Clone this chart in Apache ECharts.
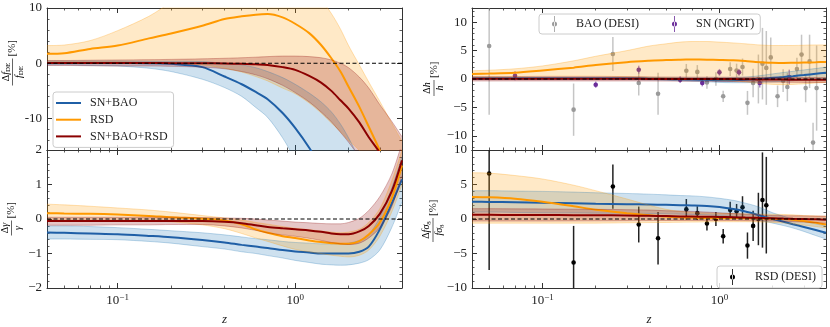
<!DOCTYPE html>
<html>
<head>
<meta charset="utf-8">
<script src="https://cdn.jsdelivr.net/npm/echarts@6/dist/echarts.min.js"></script>
<style>
html, body { margin: 0; padding: 0; background: #fff; }
#chart { width: 830px; height: 327px; }
</style>
</head>
<body>
<div id="chart"></div>
<script>
// redshift grid shared by all model curves
const zGrid = [0.04, 0.05, 0.07, 0.1, 0.15, 0.2, 0.3, 0.4, 0.5, 0.6, 0.7, 0.85, 1.0, 1.2, 1.4, 1.6, 1.8, 2.0, 2.3, 2.6, 3.0, 3.5, 4.0];

// top left: delta f_DE / f_DE [%]
const fdeBlue     = [0.05, 0.05, 0.05, 0.05, 0.0, -0.1, -0.7, -2.4, -3.8, -5.2, -6.5, -9.0, -11.7, -15.3, -19, -23, -27, -31, -37, -43, -50, -58, -66];
const fdeBlueHi   = [0.4, 0.4, 0.4, 0.4, 0.35, 0.35, 0.3, 0.0, -0.3, -0.8, -1.5, -2.6, -3.8, -5.4, -7.0, -8.8, -11, -13.5, -17.5, -22, -28, -35, -42];
const fdeBlueLo   = [-0.3, -0.3, -0.4, -0.5, -0.9, -1.5, -2.9, -4.4, -6.0, -8.0, -9.8, -13.5, -17.5, -23, -29, -35, -41, -47, -56, -65, -76, -90, -100];
const fdeOrange   = [1.7, 1.8, 2.6, 3.2, 4.5, 5.4, 6.8, 8.0, 8.5, 8.8, 8.9, 8.3, 7.15, 5.45, 3.3, 0.9, -1.5, -4.25, -7.9, -11.5, -15.8, -21, -26];
const fdeOrangeHi = [3.2, 3.3, 4.1, 5.9, 8.5, 11, 14, 16, 17, 17.5, 17.5, 17, 15.5, 13.5, 11.5, 9.0, 6.2, 3.2, -0.3, -3.4, -6.9, -10.8, -14.1];
const fdeOrangeLo = [0.2, 0.2, 0.2, 0.2, 0.1, 0.0, -0.3, -0.9, -1.6, -2.4, -3.2, -4.5, -5.5, -7.2, -9.0, -10.8, -12.4, -14, -15.8, -19, -23, -27, -31];
const fdeRed      = [0.05, 0.05, 0.05, 0.05, 0.03, 0.02, 0.0, -0.05, -0.1, -0.2, -0.3, -0.7, -1.2, -2.3, -3.5, -5.0, -6.7, -8.2, -10.7, -13.4, -16.2, -20, -24];
const fdeRedHi    = [0.5, 0.5, 0.55, 0.6, 0.65, 0.7, 0.8, 0.9, 1.0, 1.1, 1.2, 1.3, 1.3, 1.2, 1.0, 0.6, 0.0, -0.8, -2.5, -4.5, -7.5, -10.5, -13.3];
const fdeRedLo    = [-0.4, -0.4, -0.45, -0.5, -0.5, -0.55, -0.7, -1.0, -1.5, -2.1, -2.8, -4.0, -5.3, -7.0, -8.8, -10.6, -12.5, -14.3, -17, -20, -24, -28, -32];

// bottom left: delta gamma / gamma [%]
const gamBlue     = [-0.39, -0.4, -0.42, -0.44, -0.49, -0.53, -0.61, -0.68, -0.75, -0.8, -0.84, -0.9, -0.94, -0.97, -1.0, -1.0, -1.0, -1.0, -0.95, -0.8, -0.3, 0.45, 1.15];
const gamBlueHi   = [-0.2, -0.2, -0.22, -0.25, -0.3, -0.34, -0.4, -0.46, -0.52, -0.57, -0.6, -0.65, -0.68, -0.7, -0.72, -0.72, -0.72, -0.7, -0.62, -0.45, 0.05, 0.9, 1.8];
const gamBlueLo   = [-0.58, -0.58, -0.59, -0.6, -0.65, -0.7, -0.8, -0.87, -0.95, -1.0, -1.06, -1.13, -1.2, -1.26, -1.31, -1.33, -1.34, -1.33, -1.28, -1.18, -0.9, -0.25, 0.5];
const gamOrange   = [0.17, 0.16, 0.15, 0.13, 0.09, 0.05, 0.01, -0.04, -0.15, -0.3, -0.4, -0.5, -0.55, -0.62, -0.67, -0.7, -0.72, -0.72, -0.64, -0.45, -0.1, 0.6, 1.55];
const gamOrangeHi = [0.43, 0.41, 0.37, 0.32, 0.26, 0.2, 0.1, 0.03, -0.03, -0.1, -0.15, -0.22, -0.27, -0.31, -0.35, -0.38, -0.4, -0.38, -0.3, -0.1, 0.3, 1.1, 2.0];
const gamOrangeLo = [-0.05, -0.05, -0.05, -0.05, -0.06, -0.08, -0.17, -0.28, -0.42, -0.55, -0.65, -0.78, -0.88, -0.95, -1.0, -1.05, -1.08, -1.1, -1.05, -0.9, -0.5, 0.2, 1.0];
const gamRed      = [-0.06, -0.06, -0.06, -0.06, -0.06, -0.06, -0.06, -0.08, -0.12, -0.18, -0.23, -0.27, -0.3, -0.33, -0.37, -0.42, -0.44, -0.44, -0.36, -0.2, 0.15, 0.8, 1.7];
const gamRedHi    = [0.05, 0.05, 0.05, 0.05, 0.05, 0.05, 0.04, 0.03, 0.02, 0.0, -0.03, -0.06, -0.09, -0.11, -0.13, -0.14, -0.14, -0.1, 0.02, 0.25, 0.65, 1.3, 2.2];
const gamRedLo    = [-0.18, -0.18, -0.18, -0.17, -0.17, -0.16, -0.16, -0.2, -0.26, -0.33, -0.4, -0.46, -0.5, -0.56, -0.62, -0.68, -0.72, -0.74, -0.7, -0.55, -0.25, 0.35, 1.25];

// top right: delta h / h [%]
const hBlue       = [0.1, 0.1, 0.1, 0.1, 0.1, 0.1, 0.1, 0.05, 0.0, -0.05, -0.1, -0.15, -0.2, -0.2, -0.15, -0.05, 0.08, 0.2, 0.35, 0.5, 0.7, 0.92, 1.1];
const hBlueHi     = [0.3, 0.3, 0.3, 0.3, 0.3, 0.3, 0.3, 0.28, 0.25, 0.22, 0.2, 0.2, 0.2, 0.25, 0.35, 0.5, 0.7, 0.9, 1.15, 1.35, 1.6, 1.85, 2.1];
const hBlueLo     = [-0.1, -0.1, -0.1, -0.1, -0.1, -0.1, -0.1, -0.18, -0.25, -0.32, -0.4, -0.5, -0.6, -0.65, -0.65, -0.6, -0.55, -0.5, -0.4, -0.3, -0.15, 0.0, 0.15];
const hOrange     = [0.9, 0.95, 1.1, 1.5, 2.0, 2.45, 2.95, 3.2, 3.35, 3.4, 3.42, 3.4, 3.35, 3.28, 3.15, 3.0, 2.9, 2.85, 2.82, 2.85, 2.9, 2.95, 3.0];
const hOrangeHi   = [1.45, 1.55, 1.8, 2.3, 3.2, 4.0, 5.0, 5.8, 6.2, 6.5, 6.6, 6.6, 6.5, 6.35, 6.2, 6.05, 5.95, 5.9, 5.9, 5.9, 5.95, 6.0, 6.0];
const hOrangeLo   = [0.35, 0.38, 0.42, 0.5, 0.5, 0.5, 0.4, 0.3, 0.2, 0.1, 0.05, -0.1, -0.2, -0.35, -0.5, -0.7, -0.85, -0.95, -1.0, -0.95, -0.85, -0.7, -0.6];
const hRed        = [0.05, 0.05, 0.05, 0.05, 0.05, 0.04, 0.03, 0.02, 0.01, 0.0, 0.0, 0.0, 0.0, -0.02, -0.05, -0.07, -0.09, -0.1, -0.11, -0.12, -0.12, -0.14, -0.15];
const hRedHi      = [0.4, 0.4, 0.4, 0.4, 0.4, 0.4, 0.38, 0.36, 0.35, 0.34, 0.33, 0.32, 0.32, 0.31, 0.3, 0.3, 0.29, 0.28, 0.27, 0.27, 0.26, 0.25, 0.25];
const hRedLo      = [-0.35, -0.35, -0.35, -0.35, -0.35, -0.35, -0.35, -0.36, -0.37, -0.38, -0.39, -0.4, -0.42, -0.45, -0.48, -0.5, -0.52, -0.55, -0.57, -0.58, -0.6, -0.6, -0.6];

// bottom right: delta f sigma8 / f sigma8 [%]
const fsBlue      = [2.5, 2.48, 2.42, 2.35, 2.27, 2.2, 2.15, 2.1, 2.05, 2.0, 1.97, 1.9, 1.75, 1.45, 1.1, 0.7, 0.3, 0.0, -0.4, -0.75, -1.15, -1.6, -2.0];
const fsBlueHi    = [4.1, 4.1, 4.05, 4.0, 3.9, 3.8, 3.7, 3.6, 3.5, 3.4, 3.35, 3.2, 3.0, 2.7, 2.3, 1.9, 1.4, 0.9, 0.4, 0.0, -0.35, -0.7, -1.0];
const fsBlueLo    = [1.0, 1.0, 0.95, 0.9, 0.88, 0.85, 0.82, 0.8, 0.75, 0.7, 0.65, 0.6, 0.5, 0.35, 0.15, -0.1, -0.35, -0.6, -0.95, -1.3, -1.8, -2.4, -2.9];
const fsOrange    = [3.2, 3.15, 2.95, 2.5, 1.85, 1.35, 0.85, 0.55, 0.35, 0.25, 0.2, 0.15, 0.15, 0.15, 0.12, 0.1, 0.08, 0.05, 0.0, -0.1, -0.3, -0.55, -0.8];
const fsOrangeHi  = [6.7, 6.65, 6.3, 5.8, 4.9, 4.1, 2.9, 2.0, 1.4, 1.1, 0.95, 0.85, 0.8, 0.78, 0.75, 0.72, 0.7, 0.68, 0.65, 0.6, 0.5, 0.45, 0.4];
const fsOrangeLo  = [-0.6, -0.6, -0.6, -0.6, -0.6, -0.6, -0.55, -0.52, -0.5, -0.47, -0.45, -0.42, -0.4, -0.4, -0.4, -0.42, -0.45, -0.5, -0.58, -0.7, -0.9, -1.1, -1.3];
const fsRed       = [0.6, 0.6, 0.59, 0.58, 0.56, 0.55, 0.5, 0.46, 0.42, 0.38, 0.35, 0.32, 0.3, 0.26, 0.2, 0.17, 0.13, 0.1, 0.06, 0.03, 0.0, -0.05, -0.1];
const fsRedHi     = [1.5, 1.5, 1.47, 1.45, 1.42, 1.4, 1.35, 1.3, 1.2, 1.15, 1.1, 1.0, 0.9, 0.8, 0.7, 0.62, 0.55, 0.5, 0.48, 0.46, 0.45, 0.42, 0.4];
const fsRedLo     = [-0.3, -0.3, -0.3, -0.3, -0.28, -0.27, -0.25, -0.23, -0.22, -0.21, -0.2, -0.2, -0.2, -0.22, -0.24, -0.26, -0.28, -0.3, -0.35, -0.4, -0.45, -0.52, -0.6];

// mock data points
const baoZ   = [0.05, 0.15, 0.25, 0.35, 0.45, 0.65, 0.75, 0.85, 0.955, 1.05, 1.15, 1.25, 1.35, 1.44, 1.55, 1.66, 1.75, 1.84, 1.95, 2.13, 2.29, 2.42, 2.74, 2.91, 3.07, 3.23, 3.38, 3.54];
const baoVal = [5.8, -5.4, 4.4, -0.7, -2.6, 1.45, 1.25, -0.6, 0.0, -3.05, 1.75, 1.5, 2.1, -4.2, -0.7, 0.0, 2.7, 1.95, 3.8, -3.05, -0.3, -1.4, 1.75, 4.3, -1.6, 3.1, -11.2, -1.6];
const baoErr = [12.1, 4.6, 3.0, 2.2, 3.7, 1.2, 1.2, 1.1, 1.2, 1.0, 1.2, 1.2, 1.5, 2.1, 2.5, 4.3, 6.3, 6.5, 3.5, 1.9, 2.0, 2.5, 2.0, 3.5, 2.5, 4.7, 3.5, 7.5];
const snZ    = [0.07, 0.2, 0.35, 0.6, 0.8, 1.0, 1.29, 1.69, 2.48];
const snVal  = [0.58, -1.0, 1.64, -0.12, -0.7, 1.17, 1.17, -0.7, 0.35];
const snErr  = [0.8, 0.55, 0.7, 0.6, 0.6, 0.6, 0.6, 0.8, 1.3];
const rsdZ   = [0.05, 0.15, 0.25, 0.35, 0.45, 0.65, 0.75, 0.85, 0.955, 1.05, 1.15, 1.25, 1.35, 1.44, 1.55, 1.66, 1.75, 1.84];
const rsdVal = [6.6, -6.3, 4.7, -0.8, -2.8, 1.4, 0.85, -0.66, 0.0, -2.5, 1.3, 1.13, 1.7, -3.85, -1.0, 0.0, 2.75, 2.0];
const rsdErr = [14, 5.3, 3.2, 2.6, 3.8, 1.5, 1.0, 1.0, 1.0, 1.05, 1.2, 1.05, 1.6, 1.9, 2.2, 3.8, 6.9, 7.0];

// ticks
const xMajor = [0.1, 1];
const xMinor = [0.05, 0.06, 0.07, 0.08, 0.09, 0.2, 0.3, 0.4, 0.5, 0.6, 0.7, 0.8, 0.9, 2, 3];
const fdeTicks = [-10, 0, 10];
const gamTicks = [-2, -1, 0, 1, 2];
const hTicks = [-10, -5, 0, 5, 10];
const fsTicks = [-10, -5, 0, 5, 10];

const FONT = 'Liberation Serif';
const AX = '#333';
const BLUE = '#1f5fa6', ORANGE = '#ff9900', RED = '#8b0000';
const BLUE_RGB = '31,119,180', ORANGE_RGB = '255,153,0', RED_RGB = '139,0,0';

function minorRange(from, to, step, skip) {
    let out = [];
    for (let i = Math.round(from / step); i * step <= to + 1e-9; i++) {
        let v = +(i * step).toFixed(3);
        if (Math.abs(v / skip - Math.round(v / skip)) > 1e-6) out.push(v);
    }
    return out;
}

const panels = [
    { grid: { left: 47, top: 8, width: 355, height: 142 }, min: -15.7, max: 10, major: fdeTicks, minor: minorRange(-14, 8, 2, 10), hyphen: true, xlabels: false },
    { grid: { left: 47, top: 150, width: 355, height: 142 }, min: -2, max: 2, major: gamTicks, minor: minorRange(-1.8, 1.8, 0.2, 1), xlabels: true },
    { grid: { left: 472, top: 8, width: 354, height: 142 }, min: -12.5, max: 12.5, major: hTicks, minor: minorRange(-12, 12, 1, 5), xlabels: false },
    { grid: { left: 472, top: 150, width: 354, height: 142 }, min: -10, max: 10, major: fsTicks, minor: minorRange(-9, 9, 1, 5), xlabels: true }
];

const xAxes = [];
const yAxes = [];
panels.forEach((p, g) => {
    const line = { show: true, onZero: false, lineStyle: { color: AX, width: 1 } };
    const noLine = { show: false, onZero: false };
    const xMaj = { show: true, inside: true, length: 5, customValues: xMajor, lineStyle: { color: AX, width: 1 } };
    const xMin = { show: true, inside: true, length: 2.5, customValues: xMinor, lineStyle: { color: AX, width: 0.8 } };
    const xBase = { gridIndex: g, type: 'log', logBase: 10, min: 0.04, max: 4, splitLine: { show: false }, axisLabel: { show: false } };

    let main = Object.assign({}, xBase, { position: 'bottom', axisLine: line, axisTick: xMaj });
    if (p.xlabels) {
        main.axisLabel = {
            show: true, customValues: xMajor, margin: 5, color: '#222',
            formatter: v => '{b|10}{s|' + (v < 0.5 ? '\u22121' : '0') + '}',
            rich: {
                b: { fontFamily: FONT, fontSize: 13, color: '#222', lineHeight: 16 },
                s: { fontFamily: FONT, fontSize: 9, color: '#222', lineHeight: 9, verticalAlign: 'top' }
            }
        };
        main.name = 'z';
        main.nameLocation = 'middle';
        main.nameGap = 25;
        main.nameTextStyle = { fontFamily: FONT, fontStyle: 'italic', fontSize: 13, color: '#222' };
    }
    xAxes.push(main);
    xAxes.push(Object.assign({}, xBase, { position: 'top', axisLine: line, axisTick: xMaj }));
    xAxes.push(Object.assign({}, xBase, { position: 'bottom', axisLine: noLine, axisTick: xMin }));
    xAxes.push(Object.assign({}, xBase, { position: 'top', axisLine: noLine, axisTick: xMin }));

    const yMaj = { show: true, inside: true, length: 5, customValues: p.major, lineStyle: { color: AX, width: 1 } };
    const yMin = { show: true, inside: true, length: 2.5, customValues: p.minor, lineStyle: { color: AX, width: 0.8 } };
    const yBase = { gridIndex: g, type: 'value', min: p.min, max: p.max, splitLine: { show: false }, axisLabel: { show: false } };
    yAxes.push(Object.assign({}, yBase, {
        position: 'left', axisLine: line, axisTick: yMaj,
        axisLabel: {
            show: true, customValues: p.major, margin: 5, color: '#222', fontFamily: FONT, fontSize: 13,
            formatter: v => p.hyphen ? String(v) : (v < 0 ? '\u2212' + (-v) : String(v))
        }
    }));
    yAxes.push(Object.assign({}, yBase, { position: 'right', axisLine: line, axisTick: yMaj }));
    yAxes.push(Object.assign({}, yBase, { position: 'left', axisLine: noLine, axisTick: yMin }));
    yAxes.push(Object.assign({}, yBase, { position: 'right', axisLine: noLine, axisTick: yMin }));
});

function pairs(vals) {
    return zGrid.map((z, i) => [z, vals[i]]);
}

// value first, redshift second, so the stack runs along y
function band(g, lo, hi, rgb, key) {
    const common = {
        type: 'line', xAxisIndex: 4 * g, yAxisIndex: 4 * g, stack: 'band' + key, stackStrategy: 'all',
        encode: { x: 1, y: 0 },
        symbol: 'none', smooth: 0.3, silent: true, emphasis: { disabled: true },
        lineStyle: { color: 'rgba(' + rgb + ',0.28)', width: 1 }
    };
    return [
        Object.assign({}, common, { data: zGrid.map((z, i) => [lo[i], z]) }),
        Object.assign({}, common, {
            data: zGrid.map((z, i) => [hi[i] - lo[i], z]),
            areaStyle: { color: 'rgba(' + rgb + ',0.22)', opacity: 1 }
        })
    ];
}

function curve(g, name, vals, color) {
    return {
        type: 'line', name: name, xAxisIndex: 4 * g, yAxisIndex: 4 * g, data: pairs(vals),
        symbol: 'none', smooth: 0.3, silent: true, emphasis: { disabled: true },
        lineStyle: { color: color, width: 2 }, itemStyle: { color: color }
    };
}

function zeroLine(g) {
    return {
        type: 'line', xAxisIndex: 4 * g, yAxisIndex: 4 * g, data: [[0.04, 0], [4, 0]],
        symbol: 'none', silent: true, emphasis: { disabled: true },
        lineStyle: { color: '#000', width: 1, type: [4, 2.5] }
    };
}

function errorBars(g, name, zs, vals, errs, color, barColor) {
    return {
        type: 'custom', name: name, xAxisIndex: 4 * g, yAxisIndex: 4 * g,
        data: zs.map((z, i) => [z, vals[i], errs[i]]),
        itemStyle: { color: color }, silent: true,
        renderItem: function (params, api) {
            const cs = params.coordSys;
            const z = api.value(0), v = api.value(1), e = api.value(2);
            const p = api.coord([z, v]);
            let top = api.coord([z, v + e])[1];
            let bot = api.coord([z, v - e])[1];
            top = Math.max(top, cs.y);
            bot = Math.min(bot, cs.y + cs.height);
            const children = [];
            if (bot > top) {
                children.push({ type: 'line', shape: { x1: p[0], y1: top, x2: p[0], y2: bot }, style: { stroke: barColor, lineWidth: 1.5 } });
            }
            if (p[1] >= cs.y && p[1] <= cs.y + cs.height) {
                children.push({ type: 'circle', shape: { cx: p[0], cy: p[1], r: 2.3 }, style: { fill: color } });
            }
            return { type: 'group', children: children };
        }
    };
}

const bandSets = [
    [fdeBlueLo, fdeBlueHi, fdeOrangeLo, fdeOrangeHi, fdeRedLo, fdeRedHi],
    [gamBlueLo, gamBlueHi, gamOrangeLo, gamOrangeHi, gamRedLo, gamRedHi],
    [hBlueLo, hBlueHi, hOrangeLo, hOrangeHi, hRedLo, hRedHi],
    [fsBlueLo, fsBlueHi, fsOrangeLo, fsOrangeHi, fsRedLo, fsRedHi]
];
const lineSets = [
    [fdeBlue, fdeOrange, fdeRed],
    [gamBlue, gamOrange, gamRed],
    [hBlue, hOrange, hRed],
    [fsBlue, fsOrange, fsRed]
];

let series = [];
panels.forEach((p, g) => {
    const b = bandSets[g];
    const l = lineSets[g];
    series = series.concat(band(g, b[0], b[1], BLUE_RGB, g + 'b'));
    series.push(curve(g, 'SN+BAO', l[0], BLUE));
    series = series.concat(band(g, b[2], b[3], ORANGE_RGB, g + 'o'));
    series.push(curve(g, 'RSD', l[1], ORANGE));
    series = series.concat(band(g, b[4], b[5], RED_RGB, g + 'r'));
    series.push(curve(g, 'SN+BAO+RSD', l[2], RED));
    series.push(zeroLine(g));
});
series.push(errorBars(2, 'BAO (DESI)', baoZ, baoVal, baoErr, '#9a9a9a', 'rgba(150,150,150,0.55)'));
series.push(errorBars(2, 'SN (NGRT)', snZ, snVal, snErr, '#6b2d9a', 'rgba(120,60,170,0.6)'));
series.push(errorBars(3, 'RSD (DESI)', rsdZ, rsdVal, rsdErr, '#000', '#222'));

const ERR_ICON = 'path://M2.1,0 L2.9,0 L2.9,16 L2.1,16 Z M0,8 A2.5,2.5 0 1,0 5,8 A2.5,2.5 0 1,0 0,8 Z';
const legendBox = {
    backgroundColor: 'rgba(255,255,255,0.8)', borderColor: '#cccccc', borderWidth: 1, borderRadius: 3,
    selectedMode: false
};

// y labels drawn as rotated fractions
function fracLabel(x, y, w, num, den) {
    const rich = {
        u: { fontFamily: FONT, fontSize: 10, color: '#222', lineHeight: 12 },
        i: { fontFamily: FONT, fontSize: 10, fontStyle: 'italic', color: '#222', lineHeight: 12 },
        s: { fontFamily: FONT, fontSize: 7, color: '#222', lineHeight: 7, verticalAlign: 'bottom' }
    };
    return {
        type: 'group', x: x, y: y, rotation: Math.PI / 2, silent: true,
        children: [
            { type: 'text', x: 0, y: -0.5, style: { text: num, rich: rich, align: 'center', verticalAlign: 'bottom' } },
            { type: 'line', shape: { x1: -w / 2, y1: 0, x2: w / 2, y2: 0 }, style: { stroke: '#222', lineWidth: 0.7 } },
            { type: 'text', x: 0, y: 0.5, style: { text: den, rich: rich, align: 'center', verticalAlign: 'top' } },
            { type: 'text', x: w / 2 + 2, y: 0, style: { text: '[%]', fontFamily: FONT, fontSize: 11, fill: '#222', align: 'left', verticalAlign: 'middle' } }
        ]
    };
}

const lineIcon = 'rect';

const option = {
    animation: false,
    backgroundColor: '#fff',
    grid: panels.map(p => p.grid),
    xAxis: xAxes,
    yAxis: yAxes,
    legend: [
        Object.assign({}, legendBox, {
            left: 53, top: 92, orient: 'vertical', itemWidth: 25, itemHeight: 2, itemGap: 2.7,
            padding: [4, 6, 4, 3],
            data: [
                { name: 'SN+BAO', icon: lineIcon },
                { name: 'RSD', icon: lineIcon },
                { name: 'SN+BAO+RSD', icon: lineIcon }
            ],
            textStyle: { fontFamily: FONT, fontSize: 12, color: '#222', lineHeight: 14, padding: [0, 0, 0, 4] }
        }),
        Object.assign({}, legendBox, {
            left: 539, top: 14, orient: 'horizontal', itemWidth: 5, itemHeight: 16, itemGap: 33,
            padding: [2, 6, 2, 13],
            data: [{ name: 'BAO (DESI)', icon: ERR_ICON }, { name: 'SN (NGRT)', icon: ERR_ICON }],
            textStyle: { fontFamily: FONT, fontSize: 12, color: '#222', padding: [0, 0, 0, 14] }
        }),
        Object.assign({}, legendBox, {
            left: 717, top: 266, orient: 'horizontal', itemWidth: 5, itemHeight: 16,
            padding: [3, 6, 3, 13],
            data: [{ name: 'RSD (DESI)', icon: ERR_ICON }],
            textStyle: { fontFamily: FONT, fontSize: 12, color: '#222', padding: [0, 0, 0, 15] }
        })
    ],
    graphic: [
        fracLabel(12.5, 72, 27, '{u|\u0394}{i|f}{s|DE}', '{i|f}{s|DE}'),
        fracLabel(11.5, 228, 15, '{u|\u0394}{i|\u03b3}', '{i|\u03b3}'),
        fracLabel(434, 88, 16, '{u|\u0394}{i|h}', '{i|h}'),
        fracLabel(433, 230, 24, '{u|\u0394}{i|f\u03c3}{s|8}', '{i|f\u03c3}{s|8}')
    ],
    series: series
};

const chart = echarts.init(document.getElementById('chart'));
chart.setOption(option);
</script>
</body>
</html>
